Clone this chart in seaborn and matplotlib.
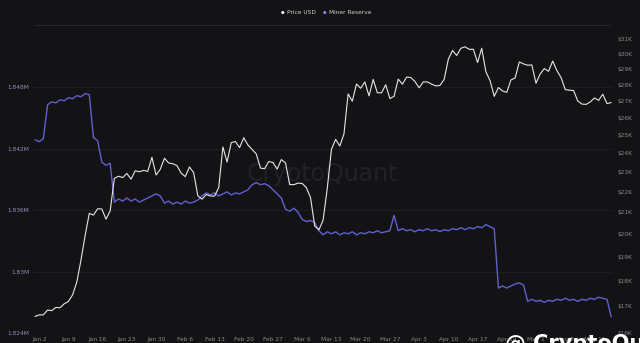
import numpy as np
import pandas as pd
import matplotlib
matplotlib.use("Agg")
import matplotlib.pyplot as plt
from matplotlib.ticker import FixedLocator, FuncFormatter, NullLocator
import seaborn as sns

# ---------------- data ----------------
start_date = "2023-01-01"
end_date = "2023-05-19"

price_usd = [
    # Jan
    16610, 16670, 16670, 16850, 16830, 16950, 16940, 17090, 17180, 17440, 17940, 18850, 19930, 20950, 20870, 21170,
    21160, 20680, 21070, 22670, 22780, 22710, 22920, 22630, 23060, 23010, 23080, 23030, 23770, 22840, 23140,
    # Feb
    23720, 23470, 23430, 23330, 22940, 22760, 23260, 22960, 21800, 21630, 21860, 21790, 21780, 22200, 24330, 23520,
    24570, 24630, 24300, 24840, 24440, 24190, 23950, 23200, 23170, 23550, 23490, 23150,
    # Mar
    23650, 23470, 22360, 22350, 22430, 22410, 22200, 21700, 20360, 20190, 20630, 22160, 24200, 24750, 24380, 25050,
    27420, 26970, 28040, 27770, 28170, 27300, 28330, 27490, 27490, 27990, 27140, 27270, 28350, 28030, 28480,
    # Apr
    28450, 28200, 27800, 28170, 28170, 28030, 27920, 27950, 28330, 29650, 30240, 29900, 30390, 30490, 30320, 30320,
    29430, 30390, 28820, 28250, 27270, 27820, 27600, 27520, 28300, 28420, 29470, 29340, 29250, 29270,
    # May
    28090, 28680, 29030, 28850, 29530, 28900, 28450, 27690, 27650, 27630, 26990, 26800, 26780, 26930, 27170, 27030,
    27400, 26830, 26890,
]

miner_reserve_m = [
    1.8429, 1.8427, 1.8430,
    1.8463, 1.8466, 1.8465, 1.8468, 1.8467, 1.8470, 1.8469, 1.8472, 1.8471, 1.8474, 1.8473,
    1.8431, 1.8428,
    1.8407, 1.8404, 1.8406,
    1.8368, 1.8371, 1.8369, 1.8372, 1.8369, 1.8371, 1.8368, 1.8370, 1.8372,
    1.8374, 1.8376, 1.8374,
    1.8367, 1.8369, 1.8366, 1.8368, 1.8366, 1.8369, 1.8367, 1.8368, 1.8370,
    1.8374, 1.8377, 1.8375, 1.8377, 1.8374, 1.8376, 1.8378, 1.8375, 1.8377, 1.8376, 1.8378, 1.8380,
    1.8385, 1.8387, 1.8385, 1.8386, 1.8384,
    1.8380, 1.8376, 1.8372,
    1.8361, 1.8359, 1.8362, 1.8358,
    1.8351, 1.8349, 1.8350, 1.8348,
    1.8340, 1.8336, 1.8339, 1.8337, 1.8339, 1.8336, 1.8338, 1.8337, 1.8339, 1.8336, 1.8338, 1.8337,
    1.8339, 1.8338, 1.8340, 1.8338, 1.8339, 1.8340,
    1.8355,
    1.8340, 1.8342, 1.8340, 1.8341, 1.8339, 1.8341, 1.8340, 1.8342, 1.8340, 1.8341, 1.8339, 1.8341,
    1.8340, 1.8342, 1.8341, 1.8343, 1.8341, 1.8343, 1.8342, 1.8344, 1.8343,
    1.8346,
    1.8344, 1.8342,
    1.8284, 1.8286, 1.8284, 1.8286, 1.8288, 1.8289, 1.8287,
    1.8271, 1.8273, 1.8271, 1.8272, 1.8270, 1.8272, 1.8271, 1.8273, 1.8272, 1.8274, 1.8272, 1.8273,
    1.8271, 1.8273, 1.8272, 1.8274, 1.8273, 1.8275, 1.8274, 1.8273,
    1.8256,
]

left_ticks_m = [1.824, 1.83, 1.836, 1.842, 1.848]
left_tick_labels = ["1.824M", "1.83M", "1.836M", "1.842M", "1.848M"]
right_ticks_k = [16, 17, 18, 19, 20, 21, 22, 23, 24, 25, 26, 27, 28, 29, 30, 31]
x_tick_dates = ["2023-01-02", "2023-01-09", "2023-01-16", "2023-01-23", "2023-01-30", "2023-02-06",
                "2023-02-13", "2023-02-20", "2023-02-27", "2023-03-06", "2023-03-13", "2023-03-20",
                "2023-03-27", "2023-04-03", "2023-04-10", "2023-04-17", "2023-04-24", "2023-05-01",
                "2023-05-08", "2023-05-15"]

dates = pd.date_range(start_date, end_date, freq="D")
df = pd.DataFrame({"date": dates, "price": price_usd, "reserve": miner_reserve_m})

# ---------------- style ----------------
BG = "#131316"
sns.set_theme(style="dark")
plt.rcParams["font.family"] = ["DejaVu Sans"]

fig = plt.figure(figsize=(6.4, 3.43), dpi=100, facecolor=BG)
ax = fig.add_axes([0.052, 0.029, 0.904, 0.889])
ax.set_facecolor(BG)

reserve_color = "#625fd0"
price_color = "#e6e6e6"

# watermark behind the lines
ax.text(0.5, 0.52, "CryptoQuant", transform=ax.transAxes, color="#222226", fontsize=17,
        ha="center", va="center", zorder=0)

sns.lineplot(data=df, x="date", y="reserve", ax=ax, color=reserve_color, linewidth=1.0, zorder=2)
ax2 = ax.twinx()
sns.lineplot(data=df, x="date", y="price", ax=ax2, color=price_color, linewidth=0.8, zorder=3)

# left axis
ax.set_ylim(1.824, 1.8538)
ax.yaxis.set_major_locator(FixedLocator(left_ticks_m))
ax.set_yticklabels(left_tick_labels)
ax.tick_params(axis="y", colors="#8f8fb5", labelsize=4.2, length=0, pad=3)
ax.grid(axis="y", color="#202024", linewidth=0.6)
ax.grid(axis="x", visible=False)

# right axis (log)
ax2.set_yscale("log")
ax2.set_ylim(16000, 31800)
ax2.yaxis.set_major_locator(FixedLocator([v * 1000 for v in right_ticks_k]))
ax2.yaxis.set_minor_locator(NullLocator())
ax2.yaxis.set_major_formatter(FuncFormatter(lambda v, p: f"${v/1000:.0f}K"))
ax2.tick_params(axis="y", colors="#8a8a8a", labelsize=4.2, length=0, pad=4)
ax2.grid(False)

# x axis
x0 = pd.Timestamp("2023-01-01") - pd.Timedelta(hours=10)
x1 = pd.Timestamp("2023-05-19") + pd.Timedelta(hours=4)
ax.set_xlim(x0, x1)
ticks = pd.to_datetime(x_tick_dates)
ax.set_xticks(ticks)
ax.set_xticklabels([f"{t.strftime('%b')} {t.day}" for t in ticks])
ax.tick_params(axis="x", colors="#8a8a8a", labelsize=4.2, length=0, pad=3)

for a in (ax, ax2):
    a.set_xlabel("")
    a.set_ylabel("")
    for s in a.spines.values():
        s.set_visible(False)

# top separator line
fig.add_artist(plt.Line2D([35 / 640, 610 / 640], [1 - 25 / 343, 1 - 25 / 343],
                          color="#26262b", linewidth=0.8))

# legend
fig.text(283 / 640, 1 - 13 / 343, "●", color="#ffffff", fontsize=3, ha="center", va="center")
fig.text(287 / 640, 1 - 13 / 343, "Price USD", color="#cfcfcf", fontsize=4.2, ha="left", va="center")
fig.text(325 / 640, 1 - 13 / 343, "●", color="#8a87e8", fontsize=3, ha="center", va="center")
fig.text(329 / 640, 1 - 13 / 343, "Miner Reserve", color="#cfcfcf", fontsize=4.2, ha="left", va="center")

# bottom-right overlay watermark (cut off by the image edge, as in the reference)
fig.text(505 / 640, 1 - 334 / 343, "@ CryptoQuant", color="#ffffff", fontsize=15, fontweight="bold",
         ha="left", va="top")

fig.savefig("out.png", dpi=100, facecolor=BG)
